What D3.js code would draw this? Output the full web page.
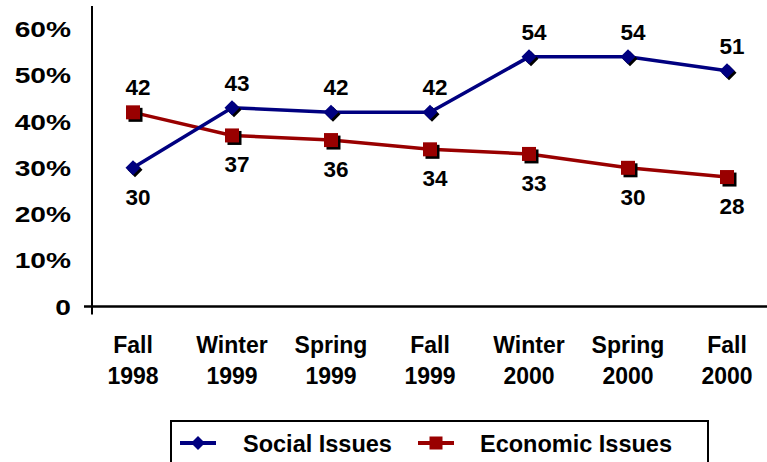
<!DOCTYPE html>
<html>
<head>
<meta charset="utf-8">
<script src="https://cdn.jsdelivr.net/npm/d3@7"></script>
<style>
  html, body { margin: 0; padding: 0; background: #fff; }
  svg { display: block; font-family: "Liberation Sans", Arial, sans-serif; font-weight: bold; }
</style>
</head>
<body>
<svg id="chart" width="767" height="462"></svg>
<script>
// Survey waves and the share naming each issue type
const periods = [["Fall", "1998"], ["Winter", "1999"], ["Spring", "1999"], ["Fall", "1999"],
                 ["Winter", "2000"], ["Spring", "2000"], ["Fall", "2000"]];
const socialIssues = [30, 43, 42, 42, 54, 54, 51];
const economicIssues = [42, 37, 36, 34, 33, 30, 28];
const yTicks = [0, 10, 20, 30, 40, 50, 60];
const seriesNames = ["Social Issues", "Economic Issues"];

const svg = d3.select("#chart");
const navy = "#000080", maroon = "#990000", ink = "#000";

const x = d3.scalePoint().domain(d3.range(periods.length)).range([133, 727]);
const y = d3.scaleLinear().domain([0, 65]).range([306.5, 6]);

// Axes
const axisX0 = 92;
svg.append("line").attr("x1", axisX0).attr("x2", axisX0).attr("y1", y(65)).attr("y2", y(0) + 8)
  .attr("stroke", ink).attr("stroke-width", 2);
svg.append("line").attr("x1", axisX0 - 8).attr("x2", 767).attr("y1", y(0)).attr("y2", y(0))
  .attr("stroke", ink).attr("stroke-width", 2.5);

// Y tick labels (wide lettering)
svg.append("g").selectAll("text").data(yTicks).join("text")
  .attr("transform", d => `translate(71,${y(d) + 8}) scale(1.25,1)`)
  .attr("text-anchor", "end").attr("font-size", 22.5).attr("fill", ink)
  .text(d => d === 0 ? "0" : d + "%");

// X category labels
const xl = svg.append("g").selectAll("text").data(periods).join("text")
  .attr("text-anchor", "middle").attr("font-size", 23).attr("fill", ink);
xl.append("tspan").attr("x", (d, i) => x(i)).attr("y", 353).text(d => d[0]);
xl.append("tspan").attr("x", (d, i) => x(i)).attr("y", 384).text(d => d[1]);

// Series lines
const line = d3.line().x((d, i) => x(i)).y(d => y(d));
svg.append("path").datum(economicIssues).attr("d", line)
  .attr("fill", "none").attr("stroke", maroon).attr("stroke-width", 3.5);
svg.append("path").datum(socialIssues).attr("d", line)
  .attr("fill", "none").attr("stroke", navy).attr("stroke-width", 3.5);

// Markers with a dropped shadow
const diamond = s => `M0,${-s}L${s},0L0,${s}L${-s},0Z`;
const sq = 7;
const econG = svg.append("g");
econG.selectAll("rect.sh").data(economicIssues).join("rect")
  .attr("x", (d, i) => x(i) - sq + 2.5).attr("y", d => y(d) - sq + 2.5)
  .attr("width", sq * 2).attr("height", sq * 2).attr("fill", ink);
econG.selectAll("rect.mk").data(economicIssues).join("rect")
  .attr("x", (d, i) => x(i) - sq).attr("y", d => y(d) - sq)
  .attr("width", sq * 2).attr("height", sq * 2).attr("fill", maroon);

const socG = svg.append("g");
socG.selectAll("path.sh").data(socialIssues).join("path")
  .attr("transform", (d, i) => `translate(${x(i) + 2},${y(d) + 2})`)
  .attr("d", diamond(7.5)).attr("fill", ink);
socG.selectAll("path.mk").data(socialIssues).join("path")
  .attr("transform", (d, i) => `translate(${x(i)},${y(d)})`)
  .attr("d", diamond(7.5)).attr("fill", navy);

// Value labels: the higher series sits above, the lower one below
const labelY = (d, other) => d >= other ? y(d) - 17 : y(d) + 37;
svg.append("g").selectAll("text").data(socialIssues).join("text")
  .attr("x", (d, i) => x(i) + 5).attr("y", (d, i) => labelY(d, economicIssues[i]))
  .attr("text-anchor", "middle").attr("font-size", 22.5).attr("fill", ink).text(d => d);
svg.append("g").selectAll("text").data(economicIssues).join("text")
  .attr("x", (d, i) => x(i) + 5).attr("y", (d, i) => labelY(d, socialIssues[i]))
  .attr("text-anchor", "middle").attr("font-size", 22.5).attr("fill", ink).text(d => d);

// Legend
const lg = svg.append("g");
lg.append("rect").attr("x", 171).attr("y", 421).attr("width", 537).attr("height", 60)
  .attr("fill", "#fff").attr("stroke", ink).attr("stroke-width", 2);
const legendItems = [
  { name: seriesNames[0], color: navy, x0: 180, tx: 243, shape: "diamond" },
  { name: seriesNames[1], color: maroon, x0: 418, tx: 480, shape: "square" }
];
const ly = 443;
legendItems.forEach(it => {
  lg.append("line").attr("x1", it.x0).attr("x2", it.x0 + 36).attr("y1", ly).attr("y2", ly)
    .attr("stroke", it.color).attr("stroke-width", 4);
  if (it.shape === "diamond") {
    lg.append("path").attr("transform", `translate(${it.x0 + 18},${ly})`)
      .attr("d", diamond(7)).attr("fill", it.color);
  } else {
    lg.append("rect").attr("x", it.x0 + 18 - 6.5).attr("y", ly - 6.5)
      .attr("width", 13).attr("height", 13).attr("fill", it.color);
  }
  lg.append("text").attr("x", it.tx).attr("y", 451.5).attr("font-size", 23.5)
    .attr("fill", ink).text(it.name);
});
</script>
</body>
</html>
